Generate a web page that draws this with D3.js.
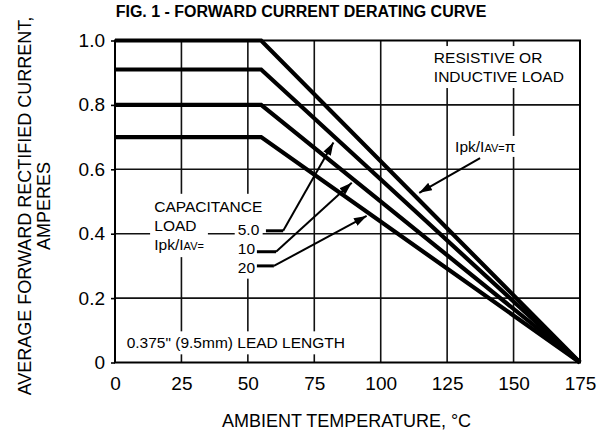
<!DOCTYPE html>
<html>
<head>
<meta charset="utf-8">
<script src="https://cdn.jsdelivr.net/npm/d3@7/dist/d3.min.js"></script>
<style>
  html, body { margin: 0; padding: 0; background: #fff; }
  svg { display: block; }
  text { font-family: "Liberation Sans", Arial, Helvetica, sans-serif; fill: #000; }
</style>
</head>
<body>
<svg id="chart" width="604" height="434"></svg>
<script>
// ---------------- data ----------------
const curveNames   = ["Ipk/IAV=π", "5.0", "10", "20"];
const ratedCurrent = [1.0, 0.91, 0.80, 0.70];   // amperes, flat region
const kneeTemp     = [55, 55, 55, 55];          // °C where derating starts
const zeroTemp     = [175, 175, 175, 175];      // °C where current reaches 0

const xTickValues = [0, 25, 50, 75, 100, 125, 150, 175];
const xTickLabels = ["0", "25", "50", "75", "100", "125", "150", "175"];
const yTickValues = [0, 0.2, 0.4, 0.6, 0.8, 1.0];
const yTickLabels = ["0", "0.2", "0.4", "0.6", "0.8", "1.0"];

const titleText  = "FIG. 1 - FORWARD CURRENT DERATING CURVE";
const xTitleText = "AMBIENT TEMPERATURE, °C";
const yTitleLines = ["AVERAGE FORWARD RECTIFIED CURRENT,", "AMPERES"];

// label-arrow paths for capacitance loads (data units: [temp, amps])
const capLabels   = ["5.0", "10", "20"];
const capLabelPos = [[54.3, 0.396], [52.7, 0.337], [52.7, 0.279]];
const capArrows   = [
  [[56.8, 0.409], [63.3, 0.409], [82.2, 0.683]],
  [[53.4, 0.344], [60.6, 0.344], [89.1, 0.558]],
  [[53.4, 0.300], [59.8, 0.300], [94.7, 0.455]]
];
const piArrow = [[137.4, 0.635], [114.5, 0.527]];

// ---------------- layout ----------------
const svg = d3.select("#chart");
const x = d3.scaleLinear().domain([0, 175]).range([115, 580]);
const y = d3.scaleLinear().domain([0, 1]).range([362.5, 40.5]);

const FONT_TICK = 19, FONT_TITLE_AX = 18, FONT_ANN = 15.5;

// defs: arrowhead
svg.append("defs").append("marker")
  .attr("id", "ah").attr("viewBox", "0 0 12 8")
  .attr("refX", 12).attr("refY", 4)
  .attr("markerWidth", 13).attr("markerHeight", 8.5)
  .attr("markerUnits", "userSpaceOnUse")
  .attr("orient", "auto")
  .append("path").attr("d", "M0,0 L12,4 L0,8 Z").attr("fill", "#000");

// ---------------- grid ----------------
const grid = svg.append("g");
grid.selectAll(".vg").data(xTickValues.slice(1, -1)).enter().append("line")
  .attr("x1", d => x(d)).attr("x2", d => x(d))
  .attr("y1", y(1)).attr("y2", y(0))
  .attr("stroke", "#111").attr("stroke-width", 1.6);
grid.selectAll(".hg").data(yTickValues.slice(1, -1)).enter().append("line")
  .attr("x1", x(0)).attr("x2", x(175))
  .attr("y1", d => y(d)).attr("y2", d => y(d))
  .attr("stroke", "#111").attr("stroke-width", 1.6);

// ---------------- annotation text (with white backing) ----------------
const annBg = svg.append("g");
const ann = svg.append("g");

function addText(parent, str, px, py, size, anchor) {
  return parent.append("text").attr("x", px).attr("y", py)
    .attr("font-size", size).attr("text-anchor", anchor || "start").text(str);
}
function backing(sel, pad) {
  const b = sel.node().getBBox();
  annBg.append("rect").attr("x", b.x - pad).attr("y", b.y - pad)
    .attr("width", b.width + 2 * pad).attr("height", b.height + 2 * pad)
    .attr("fill", "#fff");
}

// resistive load
const r1 = addText(ann, "RESISTIVE OR", x(120), y(0.930), FONT_ANN);
const r2 = addText(ann, "INDUCTIVE LOAD", x(120), y(0.871), FONT_ANN);
backing(r1, 3); backing(r2, 3);

// pi label
const pi = ann.append("text").attr("x", x(128)).attr("y", y(0.654)).attr("font-size", FONT_ANN);
pi.append("tspan").text("Ipk/I");
pi.append("tspan").attr("font-size", 11).text("AV=");
pi.append("tspan").text("π");
backing(pi, 2);

// capacitance load
const c1 = addText(ann, "CAPACITANCE", x(14.8), y(0.468), FONT_ANN);
const c2 = addText(ann, "LOAD", x(14.8), y(0.409), FONT_ANN);
const c3 = ann.append("text").attr("x", x(14.8)).attr("y", y(0.349)).attr("font-size", FONT_ANN);
c3.append("tspan").text("Ipk/I");
c3.append("tspan").attr("font-size", 11).text("AV=");
[c1, c2, c3].forEach(s => backing(s, 4));

capLabels.forEach((lab, i) => {
  const t = addText(ann, lab, x(capLabelPos[i][0]), y(capLabelPos[i][1]), FONT_ANN, "end");
  backing(t, 3);
});

// lead length
const ll = addText(ann, "0.375\" (9.5mm) LEAD LENGTH", x(4.4), y(0.044), FONT_ANN);
backing(ll, 3);

// ---------------- curves ----------------
const line = d3.line().x(d => x(d[0])).y(d => y(d[1]));
const curves = ratedCurrent.map((v, i) => [[0, v], [kneeTemp[i], v], [zeroTemp[i], 0]]);
svg.append("g").selectAll("path").data(curves).enter().append("path")
  .attr("d", line).attr("fill", "none").attr("stroke", "#000")
  .attr("stroke-width", 4.2).attr("stroke-linejoin", "miter");

// ---------------- arrows ----------------
const arrows = svg.append("g");
capArrows.forEach(pts => {
  arrows.append("path").attr("d", line(pts.slice(0, 2)))
    .attr("fill", "none").attr("stroke", "#000").attr("stroke-width", 3);
  arrows.append("path").attr("d", line(pts.slice(1)))
    .attr("fill", "none").attr("stroke", "#000").attr("stroke-width", 2)
    .attr("marker-end", "url(#ah)");
});
arrows.append("path").attr("d", line(piArrow))
  .attr("fill", "none").attr("stroke", "#000").attr("stroke-width", 2)
  .attr("marker-end", "url(#ah)");

// ---------------- frame & axes ----------------
svg.append("rect").attr("x", x(0)).attr("y", y(1))
  .attr("width", x(175) - x(0)).attr("height", y(0) - y(1))
  .attr("fill", "none").attr("stroke", "#000").attr("stroke-width", 2);

const yAxis = d3.axisLeft(y).tickValues(yTickValues)
  .tickFormat((d, i) => yTickLabels[i]).tickSize(4).tickPadding(6);
const gy = svg.append("g").attr("transform", `translate(${x(0)},0)`).call(yAxis);
gy.select(".domain").remove();
gy.selectAll(".tick line").attr("stroke", "#000").attr("stroke-width", 1.6);
gy.selectAll(".tick text").attr("font-size", FONT_TICK)
  .attr("font-family", "Liberation Sans, Arial, sans-serif").attr("fill", "#000");

const xAxis = d3.axisBottom(x).tickValues(xTickValues)
  .tickFormat((d, i) => xTickLabels[i]).tickSize(0).tickPadding(14);
const gx = svg.append("g").attr("transform", `translate(0,${y(0)})`).call(xAxis);
gx.select(".domain").remove();
gx.selectAll(".tick text").attr("font-size", FONT_TICK)
  .attr("font-family", "Liberation Sans, Arial, sans-serif").attr("fill", "#000");

// ---------------- titles ----------------
svg.append("text").attr("x", 301).attr("y", 17).attr("text-anchor", "middle")
  .attr("font-size", 16).attr("font-weight", "bold").text(titleText);

svg.append("text").attr("x", 346.5).attr("y", 427).attr("text-anchor", "middle")
  .attr("font-size", FONT_TITLE_AX).text(xTitleText);

const yt = svg.append("g").attr("transform", "translate(0,206) rotate(-90)");
yTitleLines.forEach((s, i) => {
  yt.append("text").attr("x", 0).attr("y", 31 + i * 18.5).attr("text-anchor", "middle")
    .attr("font-size", FONT_TITLE_AX).text(s);
});
</script>
</body>
</html>
